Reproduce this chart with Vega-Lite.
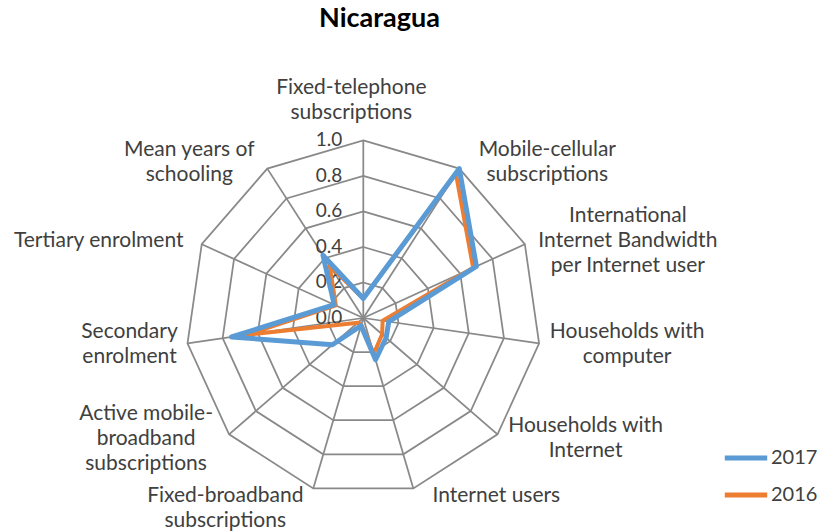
{
  "$schema": "https://vega.github.io/schema/vega-lite/v6.json",
  "width": 821,
  "height": 486,
  "autosize": "none",
  "padding": {"top": 45, "left": 0, "right": 0, "bottom": 0},
  "background": "white",
  "config": {"view": {"stroke": null}},
  "title": {"text": "Nicaragua", "font": "Lato", "fontSize": 27, "fontWeight": "bold", "color": "#000000", "anchor": "middle", "dx": -31, "offset": -9, "baseline": "alphabetic"},
  "datasets": {
    "values": [
      {"i": 0, "axis": "Fixed-telephone subscriptions", "2017": 0.11, "2016": 0.11},
      {"i": 1, "axis": "Mobile-cellular subscriptions", "2017": 1.0, "2016": 0.965},
      {"i": 2, "axis": "International Internet Bandwidth per Internet user", "2017": 0.70, "2016": 0.68},
      {"i": 3, "axis": "Households with computer", "2017": 0.145, "2016": 0.11},
      {"i": 4, "axis": "Households with Internet", "2017": 0.17, "2016": 0.14},
      {"i": 5, "axis": "Internet users", "2017": 0.245, "2016": 0.21},
      {"i": 6, "axis": "Fixed-broadband subscriptions", "2017": 0.045, "2016": 0.04},
      {"i": 7, "axis": "Active mobile-broadband subscriptions", "2017": 0.23, "2016": 0.04},
      {"i": 8, "axis": "Secondary enrolment", "2017": 0.75, "2016": 0.66},
      {"i": 9, "axis": "Tertiary enrolment", "2017": 0.18, "2016": 0.17},
      {"i": 10, "axis": "Mean years of schooling", "2017": 0.42, "2016": 0.35}
    ],
    "levels": [
      {"level": 0.0, "label": "0.0"},
      {"level": 0.2, "label": "0.2"},
      {"level": 0.4, "label": "0.4"},
      {"level": 0.6, "label": "0.6"},
      {"level": 0.8, "label": "0.8"},
      {"level": 1.0, "label": "1.0"}
    ],
    "grid": [
      {"i":0,"r":0.2},{"i":1,"r":0.2},{"i":2,"r":0.2},{"i":3,"r":0.2},{"i":4,"r":0.2},{"i":5,"r":0.2},{"i":6,"r":0.2},{"i":7,"r":0.2},{"i":8,"r":0.2},{"i":9,"r":0.2},{"i":10,"r":0.2},
      {"i":0,"r":0.4},{"i":1,"r":0.4},{"i":2,"r":0.4},{"i":3,"r":0.4},{"i":4,"r":0.4},{"i":5,"r":0.4},{"i":6,"r":0.4},{"i":7,"r":0.4},{"i":8,"r":0.4},{"i":9,"r":0.4},{"i":10,"r":0.4},
      {"i":0,"r":0.6},{"i":1,"r":0.6},{"i":2,"r":0.6},{"i":3,"r":0.6},{"i":4,"r":0.6},{"i":5,"r":0.6},{"i":6,"r":0.6},{"i":7,"r":0.6},{"i":8,"r":0.6},{"i":9,"r":0.6},{"i":10,"r":0.6},
      {"i":0,"r":0.8},{"i":1,"r":0.8},{"i":2,"r":0.8},{"i":3,"r":0.8},{"i":4,"r":0.8},{"i":5,"r":0.8},{"i":6,"r":0.8},{"i":7,"r":0.8},{"i":8,"r":0.8},{"i":9,"r":0.8},{"i":10,"r":0.8},
      {"i":0,"r":1.0},{"i":1,"r":1.0},{"i":2,"r":1.0},{"i":3,"r":1.0},{"i":4,"r":1.0},{"i":5,"r":1.0},{"i":6,"r":1.0},{"i":7,"r":1.0},{"i":8,"r":1.0},{"i":9,"r":1.0},{"i":10,"r":1.0}
    ],
    "labels": [
      {"i": 0, "k": 0, "t": "Fixed-telephone"},
      {"i": 0, "k": 1, "t": "subscriptions"},
      {"i": 1, "k": 0, "t": "Mobile-cellular"},
      {"i": 1, "k": 1, "t": "subscriptions"},
      {"i": 2, "k": 0, "t": "International"},
      {"i": 2, "k": 1, "t": "Internet Bandwidth"},
      {"i": 2, "k": 2, "t": "per Internet user"},
      {"i": 3, "k": 0, "t": "Households with"},
      {"i": 3, "k": 1, "t": "computer"},
      {"i": 4, "k": 0, "t": "Households with"},
      {"i": 4, "k": 1, "t": "Internet"},
      {"i": 5, "k": 0, "t": "Internet users"},
      {"i": 6, "k": 0, "t": "Fixed-broadband"},
      {"i": 6, "k": 1, "t": "subscriptions"},
      {"i": 7, "k": 0, "t": "Active mobile-"},
      {"i": 7, "k": 1, "t": "broadband"},
      {"i": 7, "k": 2, "t": "subscriptions"},
      {"i": 8, "k": 0, "t": "Secondary"},
      {"i": 8, "k": 1, "t": "enrolment"},
      {"i": 9, "k": 0, "t": "Tertiary enrolment"},
      {"i": 10, "k": 0, "t": "Mean years of"},
      {"i": 10, "k": 1, "t": "schooling"}
    ]
  },
  "layer": [
    {
      "data": {"name": "grid"},
      "transform": [
        {"calculate": "datum.i*2*PI/11", "as": "a"},
        {"calculate": "datum.r*sin(datum.a)", "as": "x"},
        {"calculate": "datum.r*cos(datum.a)", "as": "y"}
      ],
      "mark": {"type": "line", "interpolate": "linear-closed", "stroke": "#898989", "strokeWidth": 1.75},
      "encoding": {
        "x": {"field": "x", "type": "quantitative", "scale": {"domain": [-2.0456, 2.5771], "nice": false, "zero": false}, "axis": null},
        "y": {"field": "y", "type": "quantitative", "scale": {"domain": [-1.1993, 1.5372], "nice": false, "zero": false}, "axis": null},
        "detail": {"field": "r", "type": "nominal"},
        "order": {"field": "i", "type": "quantitative"}
      }
    },
    {
      "data": {"name": "values"},
      "transform": [
        {"calculate": "datum.i*2*PI/11", "as": "a"},
        {"calculate": "sin(datum.a)", "as": "x"},
        {"calculate": "cos(datum.a)", "as": "y"}
      ],
      "mark": {"type": "rule", "stroke": "#898989", "strokeWidth": 1.75},
      "encoding": {
        "x": {"field": "x", "type": "quantitative"},
        "y": {"field": "y", "type": "quantitative"},
        "x2": {"datum": 0},
        "y2": {"datum": 0}
      }
    },
    {
      "data": {"name": "levels"},
      "mark": {"type": "text", "align": "right", "baseline": "middle", "dx": -21, "font": "Lato", "fontSize": 19, "fill": "#404040"},
      "encoding": {
        "x": {"datum": 0, "type": "quantitative"},
        "y": {"field": "level", "type": "quantitative"},
        "text": {"field": "label", "type": "nominal"}
      }
    },
    {
      "data": {"name": "values"},
      "transform": [
        {"fold": ["2017", "2016"], "as": ["series", "value"]},
        {"filter": "datum.series == '2016'"},
        {"calculate": "datum.i*2*PI/11", "as": "a"},
        {"calculate": "datum.value*sin(datum.a)", "as": "x"},
        {"calculate": "datum.value*cos(datum.a)", "as": "y"}
      ],
      "mark": {"type": "line", "interpolate": "linear-closed", "strokeWidth": 4, "strokeJoin": "round", "strokeCap": "round"},
      "encoding": {
        "x": {"field": "x", "type": "quantitative"},
        "y": {"field": "y", "type": "quantitative"},
        "order": {"field": "i", "type": "quantitative"},
        "color": {"field": "series", "type": "nominal",
          "scale": {"domain": ["2017", "2016"], "range": ["#5B9BD5", "#ED7D31"]},
          "legend": {"title": null, "orient": "none", "legendX": 722, "legendY": 389, "symbolType": "stroke", "symbolStrokeWidth": 5, "symbolSize": 1800, "labelFont": "Lato", "labelFontSize": 20, "labelColor": "#404040", "labelOffset": 1, "rowPadding": 3}}
      }
    },
    {
      "data": {"name": "values"},
      "transform": [
        {"fold": ["2017", "2016"], "as": ["series", "value"]},
        {"filter": "datum.series == '2017'"},
        {"calculate": "datum.i*2*PI/11", "as": "a"},
        {"calculate": "datum.value*sin(datum.a)", "as": "x"},
        {"calculate": "datum.value*cos(datum.a)", "as": "y"}
      ],
      "mark": {"type": "line", "interpolate": "linear-closed", "strokeWidth": 5, "strokeJoin": "round", "strokeCap": "round"},
      "encoding": {
        "x": {"field": "x", "type": "quantitative"},
        "y": {"field": "y", "type": "quantitative"},
        "order": {"field": "i", "type": "quantitative"},
        "color": {"field": "series", "type": "nominal"}
      }
    },
    {
      "data": {"name": "labels"},
      "transform": [
        {"calculate": "datum.i*2*PI/11", "as": "a"},
        {"calculate": "sin(datum.a)", "as": "s"},
        {"calculate": "cos(datum.a)", "as": "c"},
        {"calculate": "length(datum.t)", "as": "len"},
        {"joinaggregate": [{"op": "max", "field": "len", "as": "ml"}, {"op": "count", "as": "n"}], "groupby": ["i"]},
        {"calculate": "(datum.s*177.6 + (abs(datum.s) > 0.1 ? (datum.s > 0 ? 1 : -1)*(datum.ml*10/2 + 13) : -12))/177.6", "as": "lx"},
        {"calculate": "(datum.c*177.6 + (datum.c > 0.9 ? datum.n*12.5 + 15 : (datum.c < -0.9 ? -(datum.n*12.5 - 5) : datum.c*7)) + ((datum.n - 1)/2 - datum.k)*25)/177.6", "as": "ly"}
      ],
      "mark": {"type": "text", "align": "center", "baseline": "middle", "font": "Lato", "fontSize": 21, "fill": "#404040"},
      "encoding": {
        "x": {"field": "lx", "type": "quantitative"},
        "y": {"field": "ly", "type": "quantitative"},
        "text": {"field": "t", "type": "nominal"}
      }
    }
  ]
}
